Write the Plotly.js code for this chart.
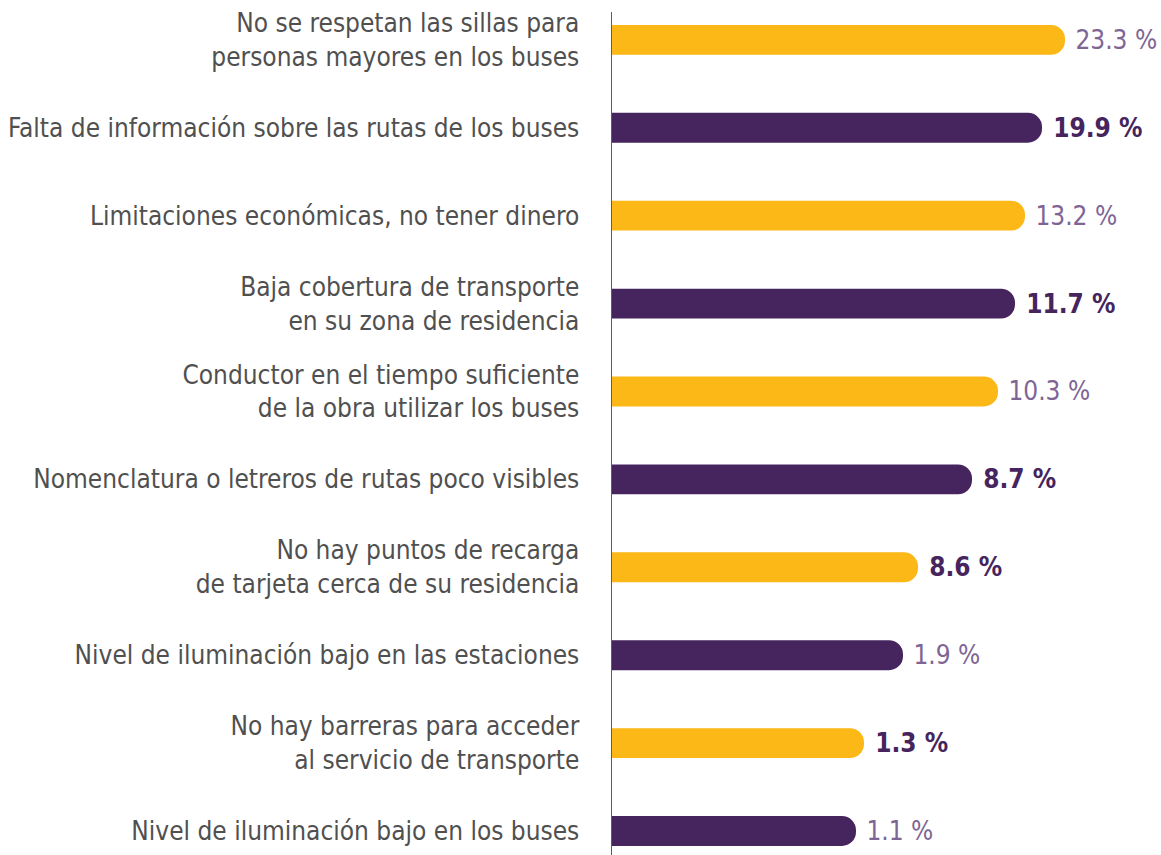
<!DOCTYPE html>
<html>
<head>
<meta charset="utf-8">
<script src="https://cdn.plot.ly/plotly-3.0.1.min.js"></script>
<style>
  body { margin: 0; background: #ffffff; }
  #myPlot { width: 1161px; height: 855px; }
</style>
</head>
<body>
<div id="myPlot"></div>
<script>
///categories, top to bottom
var reasons = [
  'No se respetan las sillas para<br>personas mayores en los buses',
  'Falta de información sobre las rutas de los buses',
  'Limitaciones económicas, no tener dinero',
  'Baja cobertura de transporte<br>en su zona de residencia',
  'Conductor en el tiempo suficiente<br>de la obra utilizar los buses',
  'Nomenclatura o letreros de rutas poco visibles',
  'No hay puntos de recarga<br>de tarjeta cerca de su residencia',
  'Nivel de iluminación bajo en las estaciones',
  'No hay barreras para acceder<br>al servicio de transporte',
  'Nivel de iluminación bajo en los buses'
];

///percentages printed next to each bar
var pct = [23.3, 19.9, 13.2, 11.7, 10.3, 8.7, 8.6, 1.9, 1.3, 1.1];

///drawn bar length (bars are not to scale with pct)
var barLen = [453, 430, 413, 403, 386, 360, 306, 291, 252, 244];

var yellow = '#FBB817';
var purple = '#46245E';
var lightLbl = '#7E6594';
var condensed = '"DejaVu Sans Condensed", "Liberation Sans Narrow", sans-serif';

var barColors = [], txtColors = [], txtWeights = [], labels = [];
for (var i = 0; i < pct.length; i++) {
  barColors.push(i % 2 == 0 ? yellow : purple);
  labels.push(' ' + pct[i].toFixed(1) + ' %');
}
///value label colours as in the picture
var darkIdx = [1, 3, 5, 6, 8];
for (var j = 0; j < pct.length; j++) {
  var dark = darkIdx.indexOf(j) > -1;
  txtColors.push(dark ? purple : lightLbl);
  txtWeights.push(dark ? 700 : 400);
}

var ext = 30; // bars start left of the axis so the rounded left end is clipped

var trace1 = {
  type: 'bar',
  orientation: 'h',
  y: reasons,
  x: barLen.map(function (v) { return v + ext; }),
  base: -ext,
  width: 0.34,
  marker: { color: barColors, cornerradius: 15 },
  text: labels,
  textposition: 'outside',
  cliponaxis: false,
  constraintext: 'none',
  textfont: {
    family: condensed,
    size: 26,
    color: txtColors,
    weight: txtWeights
  },
  hoverinfo: 'none'
};

var layout = {
  width: 1161,
  height: 855,
  margin: { l: 612, r: 0, t: 12, b: 0 },
  paper_bgcolor: '#ffffff',
  plot_bgcolor: '#ffffff',
  showlegend: false,
  xaxis: {
    range: [0, 549],
    showgrid: false,
    zeroline: false,
    showticklabels: false,
    fixedrange: true
  },
  yaxis: {
    type: 'category',
    range: [9.273, -0.317],
    showgrid: false,
    zeroline: false,
    showline: true,
    linecolor: '#6B4E86',
    linewidth: 1.5,
    ticks: '',
    ticklabelstandoff: 26,
    tickfont: {
      family: condensed,
      size: 26,
      color: '#505050'
    },
    fixedrange: true
  }
};

Plotly.newPlot('myPlot', [trace1], layout, { displayModeBar: false, staticPlot: true });
</script>
</body>
</html>
